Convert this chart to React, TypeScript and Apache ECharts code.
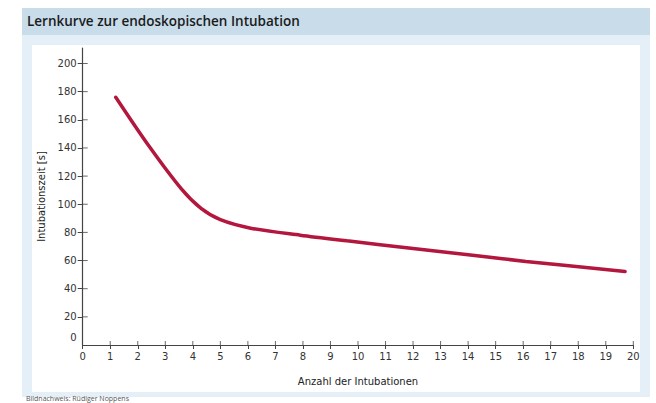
import React, { useEffect, useRef } from "react";
import * as echarts from "echarts";

const titleText = "Lernkurve zur endoskopischen Intubation";
const creditText = "Bildnachweis: Rüdiger Noppens";
const xName = "Anzahl der Intubationen";
const yName = "Intubationszeit [s]";
const xTicks = [0, 1, 2, 3, 4, 5, 6, 7, 8, 9, 10, 11, 12, 13, 14, 15, 16, 17, 18, 19, 20];
const yTicks = [0, 20, 40, 60, 80, 100, 120, 140, 160, 180, 200];
const curveX = [1.2, 2.4, 3.6, 4.3, 5.0, 6.1, 7.9, 9.6, 12.0, 14.4, 16.1, 19.7];
const curveY = [176, 141.5, 110.5, 97, 89, 83, 78, 74, 68.6, 63.2, 59.4, 52.2];

export default function App() {
  const ref = useRef<HTMLDivElement>(null);
  useEffect(() => {
    if (!ref.current) return;
    const chart = echarts.init(ref.current, null, { renderer: "svg" });
    const axisColor = "#444";
    const labelColor = "#333";
    const font = "DejaVu Sans";
    const yTickNoZero = yTicks.filter((v) => v !== 0);
    const xTickNoZero = xTicks.filter((v) => v !== 0);
    chart.setOption({
      animation: false,
      backgroundColor: "#ffffff",
      graphic: [
        { type: "rect", z: -10, shape: { x: 22, y: 8, width: 628, height: 27 }, style: { fill: "#c8dcea" } },
        { type: "rect", z: -10, shape: { x: 22, y: 35, width: 628, height: 362 }, style: { fill: "#e5eff7" } },
        { type: "rect", z: -9, shape: { x: 32, y: 45, width: 608, height: 347 }, style: { fill: "#ffffff" } },
        {
          type: "text",
          x: 27,
          y: 21,
          style: { text: titleText, fill: "#1b1b1b", font: "600 13.5px 'Open Sans'", textVerticalAlign: "middle" },
        },
        {
          type: "text",
          x: 26,
          y: 398,
          style: { text: creditText, fill: "#555", font: "7px 'Open Sans'", textVerticalAlign: "middle" },
        },
      ],
      grid: { left: 82.7, right: 22.7, top: 48, bottom: 58, containLabel: false },
      xAxis: {
        type: "value",
        min: 0,
        max: 20,
        interval: 1,
        name: xName,
        nameLocation: "middle",
        nameGap: 31,
        nameTextStyle: { color: "#222", fontFamily: font, fontSize: 10 },
        axisLine: { show: true, onZero: false, lineStyle: { color: axisColor, width: 1.2 } },
        axisTick: { show: true, length: 4, lineStyle: { color: axisColor } },
        axisLabel: { color: labelColor, fontFamily: font, fontSize: 10, margin: 6 },
        splitLine: { show: false },
      },
      yAxis: {
        type: "value",
        min: 0,
        max: 211,
        name: yName,
        nameLocation: "middle",
        nameGap: 36,
        nameTextStyle: { color: "#222", fontFamily: font, fontSize: 10 },
        axisLine: { show: true, onZero: false, lineStyle: { color: axisColor, width: 1.2 } },
        axisTick: { show: true, length: 5, customValues: yTickNoZero, lineStyle: { color: axisColor } },
        axisLabel: {
          color: labelColor,
          fontFamily: font,
          fontSize: 10,
          margin: 6,
          customValues: yTicks,
          formatter: (v: number) => (v === 0 ? "{z|0}" : String(v)),
          rich: { z: { color: labelColor, fontFamily: font, fontSize: 10, padding: [0, 0, 16, 0] } },
        },
        splitLine: { show: false },
      },
      series: [
        {
          type: "scatter",
          silent: true,
          clip: false,
          data: xTickNoZero.map((x) => [x, 0]),
          symbol: "rect",
          symbolSize: [1, 4],
          symbolOffset: [0, -2],
          itemStyle: { color: axisColor },
          z: 3,
        },
        {
          type: "scatter",
          silent: true,
          clip: false,
          data: yTickNoZero.map((y) => [0, y]),
          symbol: "rect",
          symbolSize: [5, 1],
          symbolOffset: [2.5, 0],
          itemStyle: { color: axisColor },
          z: 3,
        },
        {
          type: "line",
          data: curveX.map((x, i) => [x, curveY[i]]),
          smooth: 0.3,
          showSymbol: false,
          symbol: "none",
          lineStyle: { color: "#b3173d", width: 3.5, cap: "round" },
          z: 4,
        },
      ],
    });
    return () => chart.dispose();
  }, []);
  return <div ref={ref} style={{ position: "fixed", left: 0, top: 0, width: 656, height: 403 }} />;
}
